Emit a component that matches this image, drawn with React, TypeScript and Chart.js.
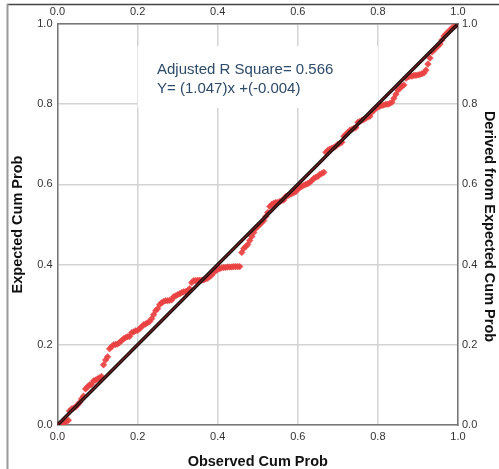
import React, { useEffect, useRef } from "react";
import { Chart, registerables } from "chart.js";

Chart.register(...registerables);

const tickValues = [0, 0.2, 0.4, 0.6, 0.8, 1.0];
const xTitle = "Observed Cum Prob";
const yTitle = "Expected Cum Prob";
const y2Title = "Derived from Expected Cum Prob";
const annotationLines = ["Adjusted R Square= 0.566", "Y= (1.047)x +(-0.004)"];
const refLineX = [0, 1];
const refLineY = [0, 1];

const observedCum = [
  0.004, 0.01, 0.016, 0.022, 0.027, 0.03, 0.035, 0.04, 0.045, 0.05,
  0.055, 0.06, 0.065, 0.07, 0.075, 0.08, 0.085, 0.09, 0.095, 0.1,
  0.105, 0.11, 0.115, 0.12, 0.125, 0.13, 0.135, 0.14, 0.145, 0.15,
  0.155, 0.16, 0.165, 0.17, 0.175, 0.18, 0.185, 0.19, 0.195, 0.2,
  0.205, 0.21, 0.215, 0.22, 0.225, 0.23, 0.235, 0.24, 0.245, 0.25,
  0.255, 0.26, 0.265, 0.27, 0.275, 0.28, 0.285, 0.29, 0.295, 0.3,
  0.305, 0.31, 0.315, 0.32, 0.325, 0.33, 0.335, 0.34, 0.345, 0.35,
  0.355, 0.36, 0.365, 0.37, 0.375, 0.38, 0.385, 0.39, 0.395, 0.4,
  0.405, 0.41, 0.415, 0.42, 0.425, 0.43, 0.435, 0.44, 0.445, 0.45,
  0.455, 0.46, 0.465, 0.47, 0.475, 0.48, 0.485, 0.49, 0.495, 0.5,
  0.505, 0.51, 0.515, 0.52, 0.525, 0.53, 0.535, 0.54, 0.545, 0.55,
  0.555, 0.56, 0.565, 0.57, 0.575, 0.58, 0.585, 0.59, 0.595, 0.6,
  0.605, 0.61, 0.615, 0.62, 0.625, 0.63, 0.635, 0.64, 0.645, 0.65,
  0.655, 0.66, 0.665, 0.67, 0.675, 0.68, 0.685, 0.69, 0.695, 0.7,
  0.705, 0.71, 0.715, 0.72, 0.725, 0.73, 0.735, 0.74, 0.745, 0.75,
  0.755, 0.76, 0.765, 0.77, 0.775, 0.78, 0.785, 0.79, 0.795, 0.8,
  0.805, 0.81, 0.815, 0.82, 0.825, 0.83, 0.835, 0.84, 0.845, 0.85,
  0.855, 0.86, 0.865, 0.87, 0.875, 0.88, 0.885, 0.89, 0.895, 0.9,
  0.905, 0.91, 0.915, 0.92, 0.925, 0.93, 0.935, 0.94, 0.945, 0.95,
  0.955, 0.96, 0.965, 0.97, 0.975, 0.98, 0.985, 0.99, 0.995,
];

const expectedCum = [
  0.002, 0.004, 0.006, 0.008, 0.012, 0.035, 0.04, 0.042, 0.045, 0.05,
  0.056, 0.065, 0.072, 0.09, 0.095, 0.1, 0.101, 0.11, 0.112, 0.115,
  0.118, 0.121, 0.15, 0.162, 0.17, 0.19, 0.195, 0.2, 0.201, 0.202,
  0.206, 0.21, 0.215, 0.218, 0.22, 0.221, 0.23, 0.232, 0.235, 0.236,
  0.24, 0.245, 0.25, 0.252, 0.255, 0.258, 0.265, 0.275, 0.285, 0.29,
  0.3, 0.305, 0.308, 0.31, 0.31, 0.311, 0.312, 0.32, 0.322, 0.325,
  0.327, 0.33, 0.332, 0.333, 0.335, 0.34, 0.355, 0.36, 0.36, 0.361,
  0.361, 0.361, 0.362, 0.364, 0.366, 0.37, 0.374, 0.38, 0.385, 0.388,
  0.39, 0.392, 0.393, 0.393, 0.394, 0.394, 0.394, 0.395, 0.395, 0.395,
  0.395, 0.43, 0.44, 0.445, 0.45, 0.46, 0.47, 0.48, 0.49, 0.495,
  0.5, 0.505, 0.51, 0.52, 0.53, 0.545, 0.55, 0.553, 0.555, 0.555,
  0.557, 0.56, 0.561, 0.57, 0.572, 0.575, 0.577, 0.58, 0.582, 0.588,
  0.592, 0.595, 0.598, 0.6, 0.602, 0.605, 0.61, 0.615, 0.618, 0.62,
  0.625, 0.627, 0.63, 0.68, 0.685, 0.688, 0.69, 0.692, 0.695, 0.7,
  0.702, 0.705, 0.72, 0.725, 0.73, 0.735, 0.737, 0.74, 0.742, 0.755,
  0.757, 0.76, 0.762, 0.765, 0.768, 0.77, 0.78, 0.785, 0.79, 0.793,
  0.795, 0.797, 0.798, 0.8, 0.8, 0.802, 0.805, 0.815, 0.825, 0.835,
  0.84, 0.845, 0.848, 0.865, 0.868, 0.87, 0.87, 0.872, 0.872, 0.873,
  0.874, 0.876, 0.878, 0.885, 0.9, 0.915, 0.93, 0.935, 0.94, 0.945,
  0.95, 0.96, 0.97, 0.975, 0.98, 0.985, 0.99, 0.993, 0.997,
];

const FONT = "'Liberation Sans', Arial, sans-serif";

const decorPlugin = {
  id: "decor",
  beforeDatasetsDraw(chart: any) {
    const { ctx } = chart;
    const xs = chart.scales.x;
    const l = xs.getPixelForValue(0.2);
    const r = xs.getPixelForValue(0.8);
    ctx.save();
    ctx.fillStyle = "#ffffff";
    ctx.fillRect(l, 46, r - l, 62);
    ctx.fillStyle = "#2c4a6a";
    ctx.font = `15px ${FONT}`;
    ctx.textBaseline = "alphabetic";
    ctx.textAlign = "left";
    ctx.fillText(annotationLines[0], 157, 73.5);
    ctx.fillText(annotationLines[1], 157, 93);
    ctx.restore();
  },
  afterDraw(chart: any) {
    const { ctx, chartArea } = chart;
    ctx.save();
    ctx.strokeStyle = "#444444";
    ctx.lineWidth = 1.5;
    ctx.beginPath();
    ctx.moveTo(7, 4.5);
    ctx.lineTo(499, 4.5);
    ctx.stroke();
    ctx.strokeStyle = "#999999";
    ctx.lineWidth = 2;
    ctx.beginPath();
    ctx.moveTo(7.5, 4);
    ctx.lineTo(7.5, 469);
    ctx.stroke();
    ctx.fillStyle = "#111111";
    ctx.font = `bold 14.5px ${FONT}`;
    ctx.textAlign = "center";
    ctx.textBaseline = "middle";
    const cx = (chartArea.left + chartArea.right) / 2;
    const cy = (chartArea.top + chartArea.bottom) / 2;
    ctx.fillText(xTitle, cx, 462);
    ctx.save();
    ctx.translate(18, cy);
    ctx.rotate(-Math.PI / 2);
    ctx.fillText(yTitle, 0, 0);
    ctx.restore();
    ctx.save();
    ctx.translate(489, cy + 2);
    ctx.rotate(Math.PI / 2);
    ctx.fillText(y2Title, 0, 0);
    ctx.restore();
    ctx.restore();
  },
};

export default function App() {
  const ref = useRef<HTMLCanvasElement | null>(null);
  useEffect(() => {
    if (!ref.current) return;
    const pts = observedCum.map((x, i) => ({ x, y: expectedCum[i] }));
    const linePts = refLineX.map((x, i) => ({ x, y: refLineY[i] }));
    const tickOpts = {
      color: "#333333",
      font: { family: FONT, size: 11 },
      callback: (v: any) => Number(v).toFixed(1),
    };
    const afterBuildTicks = (s: any) => {
      s.ticks = tickValues.map((v) => ({ value: v }));
    };
    const chart = new Chart(ref.current, {
      type: "scatter",
      data: {
        datasets: [
          {
            type: "line",
            data: linePts,
            borderColor: "#7a1c1c",
            borderWidth: 1.2,
            pointRadius: 0,
            order: 0,
          } as any,
          {
            type: "line",
            data: linePts,
            borderColor: "#111111",
            borderWidth: 3.5,
            pointRadius: 0,
            order: 1,
          } as any,
          {
            data: pts,
            backgroundColor: "rgba(234,66,66,0.95)",
            borderColor: "rgba(234,66,66,0.95)",
            borderWidth: 0.5,
            pointStyle: "rectRot",
            pointRadius: 3.3,
            order: 2,
          },
        ],
      },
      options: {
        animation: false,
        responsive: false,
        events: [],
        layout: { padding: 0 },
        plugins: { legend: { display: false }, tooltip: { enabled: false } },
        scales: {
          x: {
            type: "linear",
            position: "bottom",
            min: 0,
            max: 1,
            afterBuildTicks,
            afterFit: (s: any) => {
              s.height = 44;
            },
            grid: { color: "#d3d3d3", lineWidth: 1.5, drawTicks: false },
            border: { color: "#777777", width: 1.5 },
            ticks: { ...tickOpts, padding: 5, maxRotation: 0 },
          },
          x2: {
            type: "linear",
            position: "top",
            min: 0,
            max: 1,
            afterBuildTicks,
            afterFit: (s: any) => {
              s.height = 24;
            },
            grid: { drawOnChartArea: false, drawTicks: false },
            border: { color: "#777777", width: 1.5 },
            ticks: { ...tickOpts, padding: 5, maxRotation: 0 },
          },
          y: {
            type: "linear",
            position: "left",
            min: 0,
            max: 1,
            afterBuildTicks,
            afterFit: (s: any) => {
              s.width = 57.5;
            },
            grid: { color: "#d3d3d3", lineWidth: 1.5, drawTicks: false },
            border: { color: "#777777", width: 1.5 },
            ticks: { ...tickOpts, padding: 5 },
          },
          y2: {
            type: "linear",
            position: "right",
            min: 0,
            max: 1,
            afterBuildTicks,
            afterFit: (s: any) => {
              s.width = 41;
            },
            grid: { drawOnChartArea: false, drawTicks: false },
            border: { color: "#777777", width: 1.5 },
            ticks: { ...tickOpts, padding: 4 },
          },
        },
      } as any,
      plugins: [decorPlugin],
    });
    return () => chart.destroy();
  }, []);
  return (
    <div style={{ position: "absolute", left: 0, top: 0, width: 499, height: 469, background: "#fff" }}>
      <canvas ref={ref} width={499} height={469} style={{ display: "block", width: 499, height: 469 }} />
    </div>
  );
}
